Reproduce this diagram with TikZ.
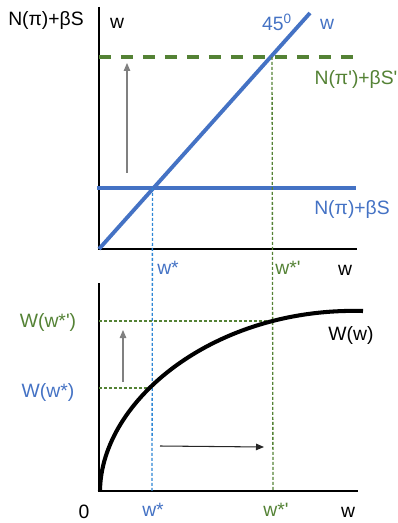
\documentclass[tikz,border=0pt]{standalone}
\usepackage{fontspec}
\setmainfont{Liberation Sans}
\usepackage{tikz}
\usetikzlibrary{arrows.meta}

\definecolor{lineblue}{HTML}{4472C4}
\definecolor{dotblue}{HTML}{2E86D4}
\definecolor{linegreen}{HTML}{548235}

\begin{document}
\begin{tikzpicture}[
  x=0.02cm, y=-0.02cm,
  font=\fontsize{11}{13}\selectfont,
  axis/.style={line width=1.1pt, black},
  blueline/.style={line width=2.2pt, lineblue},
  greendash/.style={line width=2.2pt, linegreen, dash pattern=on 0.25cm off 0.19cm},
  blueguide/.style={line width=0.75pt, dotblue, dash pattern=on 0.06cm off 0.04cm},
  greenguide/.style={line width=0.75pt, linegreen, dash pattern=on 0.06cm off 0.04cm},
  movearrow/.style={line width=0.6pt, -{Triangle[length=1.6mm, width=1.3mm]}},
  bluetxt/.style={text=lineblue},
  greentxt/.style={text=linegreen}
]
\useasboundingbox (0,0) rectangle (398,523);

% upper panel
\coordinate (otop) at (99,7);
\coordinate (o1) at (99,249);
\coordinate (x1) at (357,249);
\coordinate (diagend) at (310,13);
\coordinate (eqA) at (152.5,188);
\coordinate (eqB) at (272,57);
\coordinate (hlA) at (97,188);
\coordinate (hlB) at (356,188);
\coordinate (dlA) at (99,57);
\coordinate (dlB) at (358,57);

\draw[axis] (otop) -- (o1) -- (x1);
\draw[greendash] (dlA) -- (dlB);
\draw[blueline] (hlA) -- (hlB);
\draw[blueline] (o1) -- (diagend);

\node (ylab1) at (46,21) {N(π)+βS};
\node (wup) at (117,23) {w};
\node[bluetxt] (deg) at (277,22) {45\textsuperscript{0}};
\node[bluetxt] (wdiag) at (327,24) {w};
\node[greentxt] (npr) at (356,80) {N(π\textquotesingle)+βS\textquotesingle};
\node[bluetxt] (nbase) at (352,210) {N(π)+βS};
\node[bluetxt] (ws1) at (168,268) {w*};
\node[greentxt] (wsp1) at (288,268) {w*\textquotesingle};
\node (wx1) at (345,270) {w};

\coordinate (upA) at (127,173);
\coordinate (upB) at (127,63);
\draw[movearrow, gray] (upA) -- (upB);

% lower panel
\coordinate (otop2) at (99,283);
\coordinate (o2) at (99,491);
\coordinate (x2) at (358,491);
\coordinate (wlo) at (152,388);
\coordinate (whi) at (273,321);
\coordinate (wloY) at (99,388);
\coordinate (whiY) at (99,321);
\coordinate (ws2) at (152,491);
\coordinate (wsp2) at (273,491);
\coordinate (curveend) at (363,311);

\draw[axis] (otop2) -- (o2) -- (x2);
\draw[blueguide] (eqA) -- (ws2);
\draw[greenguide] (eqB) -- (wsp2);
\draw[greenguide] (wloY) -- (wlo);
\draw[greenguide] (whiY) -- (whi);

\draw[line width=2.3pt, black] (100,491) .. controls (101,400) and (215,307) .. (curveend);

\node[greentxt] (Whi) at (48,322) {W(w*\textquotesingle)};
\node[bluetxt] (Wlo) at (48,392) {W(w*)};
\node (Wlab) at (351,335) {W(w)};
\node (zero) at (84,512) {0};
\node[bluetxt] (ws2lab) at (153,510) {w*};
\node[greentxt] (wsp2lab) at (276,510) {w*\textquotesingle};
\node (wx2) at (348,512) {w};

\coordinate (up2A) at (123,382);
\coordinate (up2B) at (123,330);
\draw[movearrow, gray] (up2A) -- (up2B);
\coordinate (rtA) at (160,446);
\coordinate (rtB) at (264,447);
\draw[movearrow, black!85] (rtA) -- (rtB);
\end{tikzpicture}
\end{document}
